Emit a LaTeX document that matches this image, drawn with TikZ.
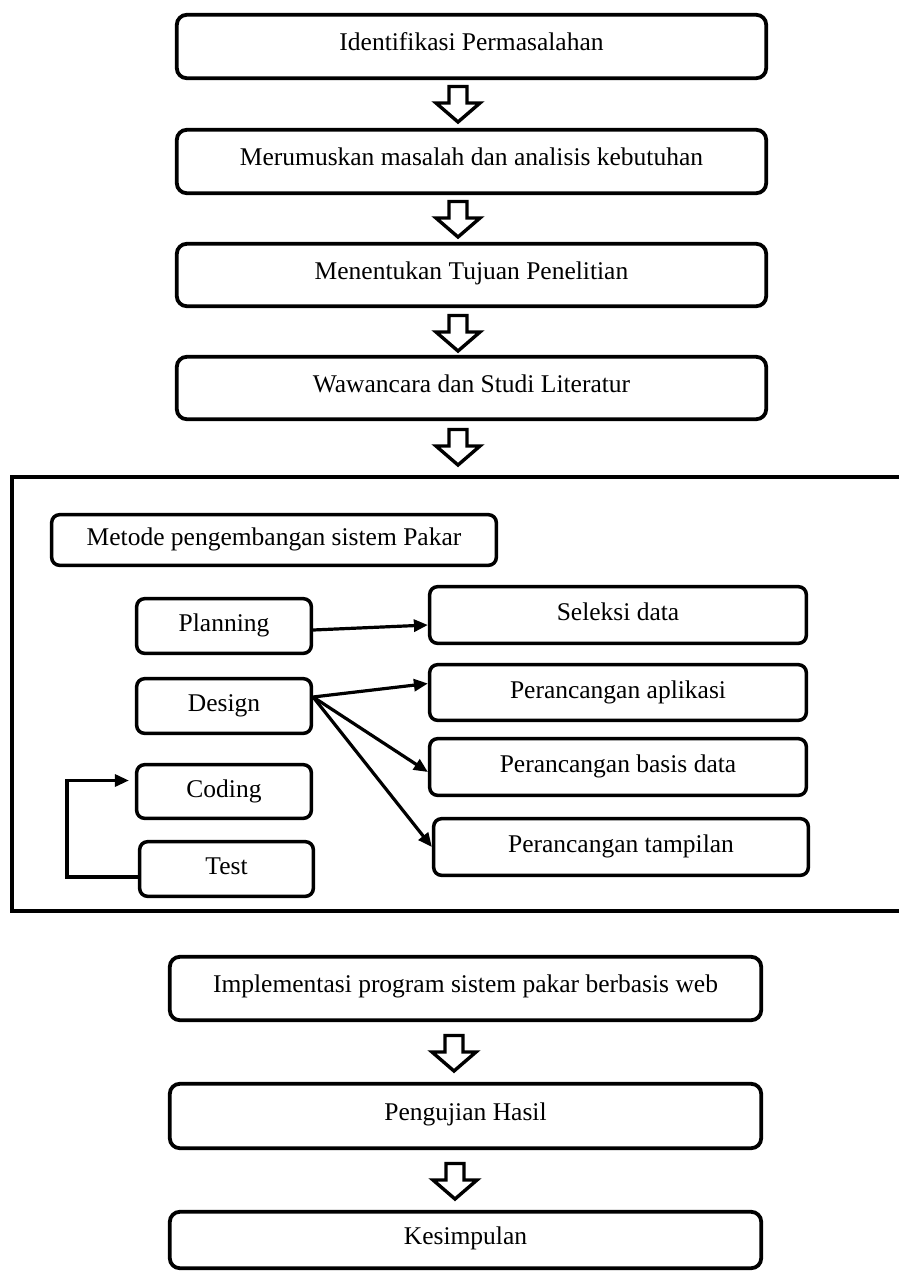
\documentclass[tikz,border=0pt]{standalone}
\usepackage{fontspec}
\setmainfont{Liberation Serif}
\usetikzlibrary{arrows.meta,calc}
\begin{document}
\begin{tikzpicture}[x=1pt,y=-1pt,
  every node/.style={font=\fontsize{25.5}{30}\selectfont},
  mainbox/.style={draw, line width=3.8pt, rounded corners=10pt, inner sep=0pt,
    text height=17pt, text depth=9pt, fill=white},
  subbox/.style={draw, line width=3.5pt, rounded corners=8pt, inner sep=0pt,
    text height=17pt, text depth=6pt, fill=white},
  conn/.style={line width=3.2pt, -{Triangle[length=14pt,width=12pt]}},
  frameline/.style={line width=3.8pt},
  blockarrow/.pic={\draw[line width=3.4pt, fill=white, line join=miter, miter limit=10]
    (-9,1.5) -- (9,1.5) -- (9,18) -- (22,18) -- (0,37) -- (-22,18) -- (-9,18) -- cycle;}
]
\useasboundingbox (0,0) rectangle (899,1274);

% main flow, upper part
\node[mainbox, minimum width=589.4pt, minimum height=63.4pt] (b1) at (471.5,46.5) {Identifikasi Permasalahan};
\node[mainbox, minimum width=589.4pt, minimum height=63.4pt] (b2) at (471.5,161.5) {Merumuskan masalah dan analisis kebutuhan};
\node[mainbox, minimum width=589.4pt, minimum height=62.4pt] (b3) at (471.5,275) {Menentukan Tujuan Penelitian};
\node[mainbox, minimum width=589.4pt, minimum height=62.4pt] (b4) at (471.5,388) {Wawancara dan Studi Literatur};

\pic at (458,85) {blockarrow};
\pic at (458,200) {blockarrow};
\pic at (458,314) {blockarrow};
\pic at (458,428) {blockarrow};

% development method frame
\draw[frameline] (12,477) rectangle (915,911);
\node[subbox, minimum width=444.7pt, minimum height=50.7pt] (met) at (274,540) {Metode pengembangan sistem Pakar};

\node[subbox, minimum width=174.7pt, minimum height=54.7pt] (plan) at (224,626) {Planning};
\node[subbox, minimum width=174.7pt, minimum height=54.7pt] (des) at (224,706) {Design};
\node[subbox, minimum width=174.7pt, minimum height=53.7pt] (cod) at (224,791.5) {Coding};
\node[subbox, minimum width=173.7pt, minimum height=54.7pt] (tst) at (226.5,869) {Test};

\node[subbox, minimum width=376.7pt, minimum height=56.7pt] (sel) at (618,615) {Seleksi data};
\node[subbox, minimum width=376.7pt, minimum height=55.7pt] (apl) at (618,692.5) {Perancangan aplikasi};
\node[subbox, minimum width=376.7pt, minimum height=56.7pt] (bas) at (618,767) {Perancangan basis data};
\node[subbox, minimum width=374.7pt, minimum height=56.7pt] (tam) at (621,847) {Perancangan tampilan};

\draw[conn] ([yshift=-4pt]plan.east) -- ([yshift=-10pt]sel.west);
\coordinate (ds) at ([yshift=9pt]des.east);
\draw[conn] (ds) -- ([yshift=9pt]apl.west);
\draw[conn] (ds) -- ([yshift=-5pt]bas.west);
\draw[conn] (ds) -- (tam.west);
\draw[conn] ([yshift=-8pt]tst.west) -- ++(-71,0) |- ([xshift=-6pt,yshift=11pt]cod.west);

% main flow, lower part
\node[mainbox, minimum width=591.4pt, minimum height=63.4pt] (b5) at (465.5,988.5) {Implementasi program sistem pakar berbasis web};
\node[mainbox, minimum width=591.4pt, minimum height=64.4pt] (b6) at (465.5,1116) {Pengujian Hasil};
\node[mainbox, minimum width=591.4pt, minimum height=56.4pt] (b7) at (465.5,1240) {Kesimpulan};

\pic at (454,1034) {blockarrow};
\pic at (455,1162) {blockarrow};
\end{tikzpicture}
\end{document}
